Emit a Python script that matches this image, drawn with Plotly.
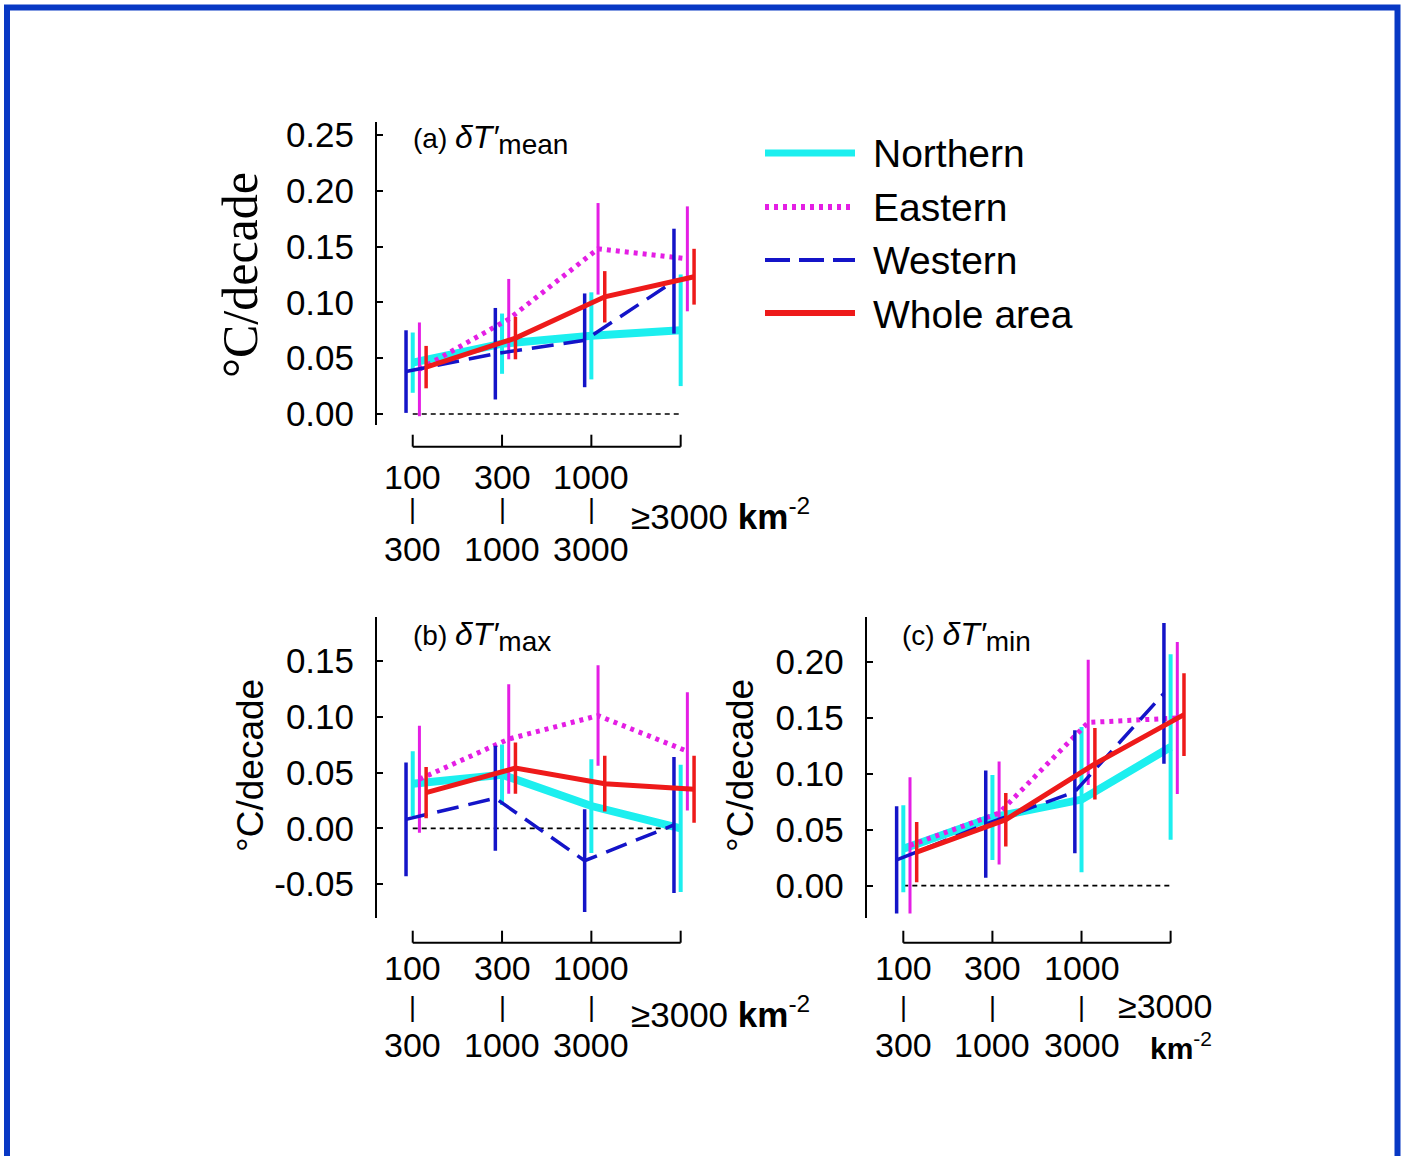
import plotly.graph_objects as go

W, H = 1404, 1156

# ---- data -------------------------------------------------------------
categories = [1, 2, 3, 4]                     # population-density classes
density_low = ["100", "300", "1000"]          # lower bound of each closed class
density_high = ["300", "1000", "3000"]        # upper bound of each closed class
top_class = "≥3000"
regions = ["Northern", "Eastern", "Western", "Whole area"]

# (a) mean temperature trend, degC/decade, with +/- error
mean_northern = [0.046, 0.063, 0.070, 0.075]
mean_northern_err = [0.027, 0.027, 0.039, 0.050]
mean_eastern = [0.040, 0.085, 0.148, 0.139]
mean_eastern_err = [0.042, 0.036, 0.041, 0.047]
mean_western = [0.038, 0.054, 0.066, 0.119]
mean_western_err = [0.037, 0.041, 0.042, 0.047]
mean_whole = [0.042, 0.068, 0.105, 0.123]
mean_whole_err = [0.019, 0.019, 0.023, 0.025]

# (b) maximum temperature trend
max_northern = [0.040, 0.048, 0.020, 0.000]
max_northern_err = [0.029, 0.027, 0.042, 0.057]
max_eastern = [0.044, 0.080, 0.101, 0.069]
max_eastern_err = [0.048, 0.049, 0.045, 0.053]
max_western = [0.008, 0.027, -0.029, 0.003]
max_western_err = [0.051, 0.047, 0.046, 0.061]
max_whole = [0.032, 0.054, 0.040, 0.035]
max_whole_err = [0.023, 0.023, 0.025, 0.030]

# (c) minimum temperature trend
min_northern = [0.033, 0.061, 0.077, 0.124]
min_northern_err = [0.039, 0.038, 0.065, 0.083]
min_eastern = [0.036, 0.065, 0.146, 0.150]
min_eastern_err = [0.061, 0.046, 0.056, 0.068]
min_western = [0.023, 0.055, 0.084, 0.172]
min_western_err = [0.048, 0.048, 0.055, 0.063]
min_whole = [0.030, 0.059, 0.109, 0.153]
min_whole_err = [0.027, 0.024, 0.032, 0.037]

ticks_a = [0.00, 0.05, 0.10, 0.15, 0.20, 0.25]
ticks_b = [-0.05, 0.00, 0.05, 0.10, 0.15]
ticks_c = [0.00, 0.05, 0.10, 0.15, 0.20]

# ---- styling ------------------------------------------------------------
style = {
    "Northern":   dict(color="#1cefef", width=8, dash="solid", err_w=4, offset=0.0,
                       leg_w=7, leg_dash="solid"),
    "Eastern":    dict(color="#e41ee4", width=5, dash="4px,5px", err_w=3, offset=0.075,
                       leg_w=6, leg_dash="4px,5px"),
    "Western":    dict(color="#1414c8", width=3.5, dash="22px,10px", err_w=3.5, offset=-0.075,
                       leg_w=4, leg_dash="25px,9px"),
    "Whole area": dict(color="#ee1a1a", width=5, dash="solid", err_w=3.5, offset=0.15,
                       leg_w=6, leg_dash="solid"),
}

SANS = "Liberation Sans, Arial, sans-serif"
SERIF = "Liberation Serif, Times New Roman, serif"


def px_x(p):
    return p / W


def px_y(p):
    return 1 - p / H


panels = [
    dict(xa="x", ya="y", series=[
        ("Northern", mean_northern, mean_northern_err),
        ("Eastern", mean_eastern, mean_eastern_err),
        ("Western", mean_western, mean_western_err),
        ("Whole area", mean_whole, mean_whole_err)]),
    dict(xa="x2", ya="y2", series=[
        ("Northern", max_northern, max_northern_err),
        ("Eastern", max_eastern, max_eastern_err),
        ("Western", max_western, max_western_err),
        ("Whole area", max_whole, max_whole_err)]),
    dict(xa="x3", ya="y3", series=[
        ("Northern", min_northern, min_northern_err),
        ("Eastern", min_eastern, min_eastern_err),
        ("Western", min_western, min_western_err),
        ("Whole area", min_whole, min_whole_err)]),
]

fig = go.Figure()

for p in panels:
    # zero reference line
    fig.add_trace(go.Scatter(
        x=[categories[0], categories[-1]], y=[0, 0], mode="lines",
        line=dict(color="black", width=1.6, dash="5px,4px"),
        xaxis=p["xa"], yaxis=p["ya"], showlegend=False, hoverinfo="skip"))
    for region, vals, errs in p["series"]:
        s = style[region]
        fig.add_trace(go.Scatter(
            x=[c + s["offset"] for c in categories], y=vals, mode="lines",
            name=region,
            line=dict(color=s["color"], width=s["width"], dash=s["dash"]),
            error_y=dict(type="data", array=errs, visible=True, color=s["color"],
                         thickness=s["err_w"], width=0),
            xaxis=p["xa"], yaxis=p["ya"], showlegend=False))


def yaxis(domain, rng, ticks, anchor):
    return dict(
        domain=domain, range=rng, anchor=anchor, tickvals=ticks,
        ticktext=[f"{t:.2f}" for t in ticks],
        showline=True, linecolor="black", linewidth=2,
        ticks="inside", ticklen=6, tickwidth=2, tickcolor="black",
        showgrid=False, zeroline=False, automargin=False,
        tickfont=dict(family=SANS, size=35, color="black"),
        ticklabelstandoff=14, fixedrange=True)


def xaxis(domain, rng, anchor):
    return dict(domain=domain, range=rng, anchor=anchor, visible=False,
                showgrid=False, zeroline=False, fixedrange=True)


fig.update_layout(
    width=W, height=H, margin=dict(l=0, r=0, t=0, b=0),
    paper_bgcolor="white", plot_bgcolor="white", showlegend=False,
    xaxis=xaxis([px_x(377), px_x(703)], [0.6, 4.25], "y"),
    yaxis=yaxis([px_y(425), px_y(122)], [-0.00986, 0.2616], ticks_a, "x"),
    xaxis2=xaxis([px_x(377), px_x(703)], [0.6, 4.25], "y2"),
    yaxis2=yaxis([px_y(918.3), px_y(616.7)], [-0.0806, 0.1896], ticks_b, "x2"),
    xaxis3=xaxis([px_x(866.7), px_x(1192.9)], [0.589, 4.25], "y3"),
    yaxis3=yaxis([px_y(918.3), px_y(616.7)], [-0.0292, 0.2406], ticks_c, "x3"),
)

shapes = []
annotations = []
LABEL_FONT = dict(family=SANS, size=34, color="black")

# category brackets under each panel, with the class labels
bracket = {"x": 446.7, "x2": 942.7, "x3": 942.7}
label_rows = {"x": (477, 509, 549), "x2": (968, 1007, 1045), "x3": (968, 1007, 1045)}
for xa, yline in bracket.items():
    shapes.append(dict(type="line", xref=xa, yref="paper",
                       x0=categories[0], x1=categories[-1],
                       y0=px_y(yline), y1=px_y(yline),
                       line=dict(color="black", width=2)))
    for c in categories:
        shapes.append(dict(type="line", xref=xa, yref="paper", x0=c, x1=c,
                           y0=px_y(yline), y1=px_y(yline - 12),
                           line=dict(color="black", width=2)))
    r1, r2, r3 = label_rows[xa]
    for c, lo, hi in zip(categories, density_low, density_high):
        annotations.append(dict(text=lo, xref=xa, yref="paper", x=c, y=px_y(r1),
                                xanchor="center", yanchor="middle", showarrow=False,
                                font=LABEL_FONT))
        annotations.append(dict(text="|", xref=xa, yref="paper", x=c, y=px_y(r2),
                                xanchor="center", yanchor="middle", showarrow=False,
                                font=dict(family=SANS, size=27, color="black")))
        annotations.append(dict(text=hi, xref=xa, yref="paper", x=c, y=px_y(r3),
                                xanchor="center", yanchor="middle", showarrow=False,
                                font=LABEL_FONT))

# open-ended top class
for yy in (514, 1012):
    annotations.append(dict(
        text=f"{top_class} <b>km</b><sup>-2</sup>", xref="paper", yref="paper",
        x=px_x(629), y=px_y(yy), xanchor="left", yanchor="middle",
        showarrow=False, font=dict(family=SANS, size=35, color="black")))
annotations.append(dict(
    text=top_class, xref="paper", yref="paper", x=px_x(1214), y=px_y(1006),
    xanchor="right", yanchor="middle", showarrow=False, font=LABEL_FONT))
annotations.append(dict(
    text="<b>km</b><sup>-2</sup>", xref="paper", yref="paper", x=px_x(1214), y=px_y(1046),
    xanchor="right", yanchor="middle", showarrow=False,
    font=dict(family=SANS, size=30, color="black")))

# panel titles
for letter, sub, xx, yy in (("a", "mean", 411, 139), ("b", "max", 411, 637), ("c", "min", 900, 637)):
    annotations.append(dict(
        text=(f"({letter}) <span style='font-size:32px'><i>δT′</i></span>"
              f"<sub><span style='font-size:28px'>{sub}</span></sub>"),
        xref="paper", yref="paper", x=px_x(xx), y=px_y(yy),
        xanchor="left", yanchor="middle", showarrow=False,
        font=dict(family=SANS, size=28, color="black")))

# y-axis titles
annotations.append(dict(
    text="°C/decade", xref="paper", yref="paper", x=px_x(240), y=px_y(275),
    textangle=-90, xanchor="center", yanchor="middle", showarrow=False,
    font=dict(family=SERIF, size=50, color="black")))
for xx in (250, 740):
    annotations.append(dict(
        text="°C/decade", xref="paper", yref="paper", x=px_x(xx), y=px_y(766),
        textangle=-90, xanchor="center", yanchor="middle", showarrow=False,
        font=dict(family=SANS, size=37, color="black")))

# legend
legend_rows = [153, 207, 260, 313]
for region, yy in zip(regions, legend_rows):
    s = style[region]
    shapes.append(dict(type="line", xref="paper", yref="paper",
                       x0=px_x(765), x1=px_x(855), y0=px_y(yy), y1=px_y(yy),
                       line=dict(color=s["color"], width=s["leg_w"], dash=s["leg_dash"])))
    annotations.append(dict(
        text=region, xref="paper", yref="paper", x=px_x(871), y=px_y(yy + 1),
        xanchor="left", yanchor="middle", showarrow=False,
        font=dict(family=SANS, size=39, color="black")))

# page frame
shapes.append(dict(type="rect", xref="paper", yref="paper",
                   x0=px_x(7), x1=px_x(1397.5), y0=-0.05, y1=px_y(7.5),
                   line=dict(color="#0838c4", width=6), fillcolor="rgba(0,0,0,0)"))

fig.update_layout(shapes=shapes, annotations=annotations)
fig.write_html("out.html")
